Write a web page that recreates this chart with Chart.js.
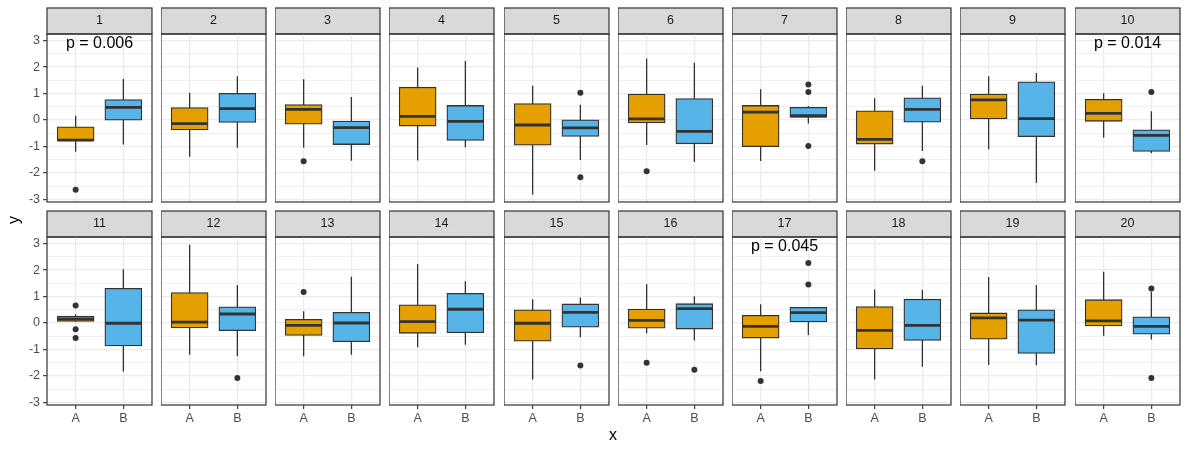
<!DOCTYPE html>
<html><head><meta charset="utf-8">
<script src="https://cdn.jsdelivr.net/npm/chart.js@4.4.1/dist/chart.umd.min.js"></script>
<style>
html,body{margin:0;padding:0;background:#fff}
body{width:1188px;height:453px;overflow:hidden;position:relative;font-family:"Liberation Sans",Arial,sans-serif}
canvas{position:absolute}
.ttl{position:absolute;color:#000;font-size:16px;line-height:16px;text-align:center;white-space:nowrap}
</style></head><body>
<div id="root"></div>
<div class="ttl" style="left:563px;top:427px;width:100px;height:16px;">x</div>
<div class="ttl" style="left:-6px;top:212px;width:40px;height:16px;transform:rotate(-90deg);">y</div>
<script>
// ---- data ----
const panels = ['1','2','3','4','5','6','7','8','9','10','11','12','13','14','15','16','17','18','19','20'];
const groups = ['A','B'];
const aLow  = [-1.20,-1.39,-1.05,-1.53,-2.82,-0.95,-1.55,-1.92,-1.11,-0.67, 0.05,-1.20,-1.26,-0.92,-2.14,-0.39,-1.82,-2.14,-1.59,-0.48];
const aQ1   = [-0.79,-0.38,-0.16,-0.23,-0.95,-0.11,-1.01,-0.91, 0.04,-0.05, 0.06,-0.19,-0.47,-0.39,-0.69,-0.20,-0.57,-0.98,-0.61,-0.11];
const aMed  = [-0.76,-0.14, 0.40, 0.14,-0.19, 0.04, 0.30,-0.73, 0.76, 0.25, 0.15, 0.03,-0.09, 0.05,-0.01, 0.10,-0.13,-0.28, 0.19, 0.08];
const aQ3   = [-0.26, 0.47, 0.58, 1.24, 0.62, 0.98, 0.55, 0.35, 0.98, 0.78, 0.26, 1.15, 0.14, 0.69, 0.50, 0.53, 0.29, 0.62, 0.38, 0.88];
const aHigh = [ 0.16, 1.03, 1.54, 1.98, 1.29, 2.32, 1.16, 0.82, 1.65, 1.01, 0.33, 2.96, 0.44, 2.23, 0.90, 1.46, 0.71, 1.27, 1.74, 1.94];
const bLow  = [-0.93,-1.05,-1.54,-1.03,-1.51,-1.59,-0.13,-1.17,-2.37,-1.26,-1.83,-1.26,-1.20,-0.82,-0.54,-0.66,-0.45,-1.65,-1.60,-0.62];
const bQ1   = [-0.01,-0.09,-0.93,-0.77,-0.62,-0.90, 0.10,-0.08,-0.63,-1.19,-0.87,-0.29,-0.71,-0.37,-0.16,-0.23, 0.04,-0.66,-1.15,-0.42];
const bMed  = [ 0.48, 0.43,-0.29,-0.05,-0.30,-0.43, 0.16, 0.40, 0.05,-0.58,-0.01, 0.34, 0.00, 0.52, 0.40, 0.54, 0.39,-0.09, 0.11,-0.13];
const bQ3   = [ 0.77, 1.01,-0.04, 0.55, 0.01, 0.81, 0.48, 0.84, 1.44,-0.37, 1.31, 0.61, 0.40, 1.12, 0.72, 0.73, 0.59, 0.90, 0.50, 0.23];
const bHigh = [ 1.55, 1.65, 0.87, 2.23, 0.58, 2.16, 0.53, 1.29, 1.78, 0.33, 2.03, 1.44, 1.75, 1.58, 0.96, 1.01, 0.59, 1.26, 1.44, 1.18];
const aOut  = [[-2.64],[],[-1.56],[],[],[-1.94],[],[],[],[],[0.66,-0.24,-0.57],[],[1.17],[],[],[-1.50],[-2.19],[],[],[]];
const bOut  = [[],[],[],[],[1.03,-2.16],[],[1.34,1.06,-0.98],[-1.56],[],[1.06],[],[-2.08],[],[],[-1.61],[-1.77],[2.27,1.45],[],[],[1.30,-2.08]];
const pPanel = [1,10,17];
const pText  = ['p = 0.006','p = 0.014','p = 0.045'];
const pY     = [2.94,2.94,2.93];
const yTickVals = [-3,-2.5,-2,-1.5,-1,-0.5,0,0.5,1,1.5,2,2.5,3];

// ---- styling ----
const fillA = '#E69F00', fillB = '#56B4E9', ink = '#333333';
const yMin = -3.1, yMax = 3.25, xMin = 0.4, xMax = 2.6, boxHalf = 0.375;
Chart.defaults.font.family = '"Liberation Sans", Arial, sans-serif';

const facetPlugin = {
  id: 'facet',
  beforeDraw(chart) {
    const {ctx, chartArea: a} = chart;
    ctx.save();
    ctx.fillStyle = '#D9D9D9';
    ctx.fillRect(a.left, a.top - 26, a.right - a.left, 26);
    ctx.strokeStyle = ink; ctx.lineWidth = 1.2;
    ctx.strokeRect(a.left, a.top - 26, a.right - a.left, 26);
    ctx.restore();
  },
  afterDatasetsDraw(chart, args, opts) {
    const k = pPanel.indexOf(opts.panel + 1);
    if (k < 0) return;
    const {ctx, scales} = chart;
    ctx.save();
    ctx.font = '16px "Liberation Sans", Arial, sans-serif';
    ctx.fillStyle = '#000';
    ctx.textAlign = 'center';
    ctx.textBaseline = 'alphabetic';
    ctx.fillText(pText[k], scales.x.getPixelForValue(1.5), scales.y.getPixelForValue(pY[k]) + 0.716 * 16 / 2);
    ctx.restore();
  },
  afterDraw(chart) {
    const {ctx, chartArea: a} = chart;
    ctx.save();
    ctx.strokeStyle = ink; ctx.lineWidth = 1.2;
    ctx.strokeRect(a.left, a.top, a.right - a.left, a.bottom - a.top);
    ctx.restore();
  }
};

const root = document.getElementById('root');
panels.forEach((name, i) => {
  const c = i % 10, r = Math.floor(i / 10);
  const first = c === 0, bottomRow = r === 1;
  const panelLeft = Math.round(46.7 + c * 114.2);
  const leftW = first ? 47 : 0;
  const W = leftW + 105 + 2;
  const padBottom = bottomRow ? 0 : 8;
  const H = 1 + 26 + 168 + (bottomRow ? 23 : padBottom);
  const cv = document.createElement('canvas');
  cv.width = W; cv.height = H;
  cv.style.left = (panelLeft - leftW) + 'px';
  cv.style.top = (r === 0 ? 7 : 210) + 'px';
  cv.style.width = W + 'px'; cv.style.height = H + 'px';
  root.appendChild(cv);

  const datasets = [
    {type: 'line', order: 3,
     data: [{x: 1, y: aLow[i]}, {x: 1, y: aHigh[i]}, {x: 1.5, y: null}, {x: 2, y: bLow[i]}, {x: 2, y: bHigh[i]}],
     borderColor: ink, borderWidth: 1.3, pointRadius: 0, spanGaps: false, fill: false},
    {type: 'bar', order: 2,
     data: [{x: 1, y: [aQ1[i], aQ3[i]]}, {x: 2, y: [bQ1[i], bQ3[i]]}],
     backgroundColor: [fillA, fillB], borderColor: ink, borderWidth: 1.3, borderSkipped: false, barThickness: 37},
    {type: 'line', order: 1,
     data: [{x: 1 - boxHalf, y: aMed[i]}, {x: 1 + boxHalf, y: aMed[i]}, {x: 1.5, y: null},
            {x: 2 - boxHalf, y: bMed[i]}, {x: 2 + boxHalf, y: bMed[i]}],
     borderColor: ink, borderWidth: 2.8, pointRadius: 0, spanGaps: false, borderCapStyle: 'butt', fill: false},
    {type: 'scatter', order: 0,
     data: [...aOut[i].map(v => ({x: 1, y: v})), ...bOut[i].map(v => ({x: 2, y: v}))],
     backgroundColor: ink, borderWidth: 0, pointRadius: 3}
  ];

  new Chart(cv, {
    type: 'bar',
    data: {datasets},
    plugins: [facetPlugin],
    options: {
      responsive: false, animation: false, devicePixelRatio: 1,
      layout: {autoPadding: false, padding: {top: 1, right: 2, bottom: padBottom, left: 0}},
      plugins: {
        legend: {display: false}, tooltip: {enabled: false},
        title: {display: true, text: name, color: '#1A1A1A', fullSize: false,
                font: {size: 12.5, weight: 'normal', lineHeight: '12px'}, padding: {top: 7, bottom: 7}},
        facet: {panel: i}
      },
      scales: {
        x: {
          type: 'linear', min: xMin, max: xMax, offset: false,
          afterBuildTicks: s => { s.ticks = [1, 2].map(v => ({value: v})); },
          afterFit: s => { s.height = bottomRow ? 23 : 0; s.paddingLeft = 0; s.paddingRight = 0; },
          ticks: {display: bottomRow, color: '#4D4D4D', font: {size: 12.5}, padding: 2, maxRotation: 0, autoSkip: false,
                  callback: v => groups[v - 1]},
          grid: {color: '#EBEBEB', lineWidth: 1.3, offset: false, drawTicks: bottomRow, tickLength: 4,
                 tickColor: ink, tickWidth: 1.1},
          border: {display: false}
        },
        y: {
          type: 'linear', min: yMin, max: yMax,
          afterBuildTicks: s => { s.ticks = yTickVals.map(v => ({value: v})); },
          afterFit: s => { s.width = first ? 47 : 0; s.paddingTop = 0; s.paddingBottom = 0; },
          ticks: {display: first, color: '#4D4D4D', font: {size: 12.5}, padding: 3, autoSkip: false,
                  callback: v => Number.isInteger(v) ? String(v) : ''},
          grid: {color: '#EBEBEB',
                 lineWidth: ctx => Number.isInteger(ctx.tick && ctx.tick.value) ? 1.3 : 0.7,
                 drawTicks: first, tickLength: 4,
                 tickColor: ctx => Number.isInteger(ctx.tick && ctx.tick.value) ? ink : 'rgba(0,0,0,0)',
                 tickWidth: 1.1},
          border: {display: false}
        }
      }
    }
  });
});
</script>
</body></html>
